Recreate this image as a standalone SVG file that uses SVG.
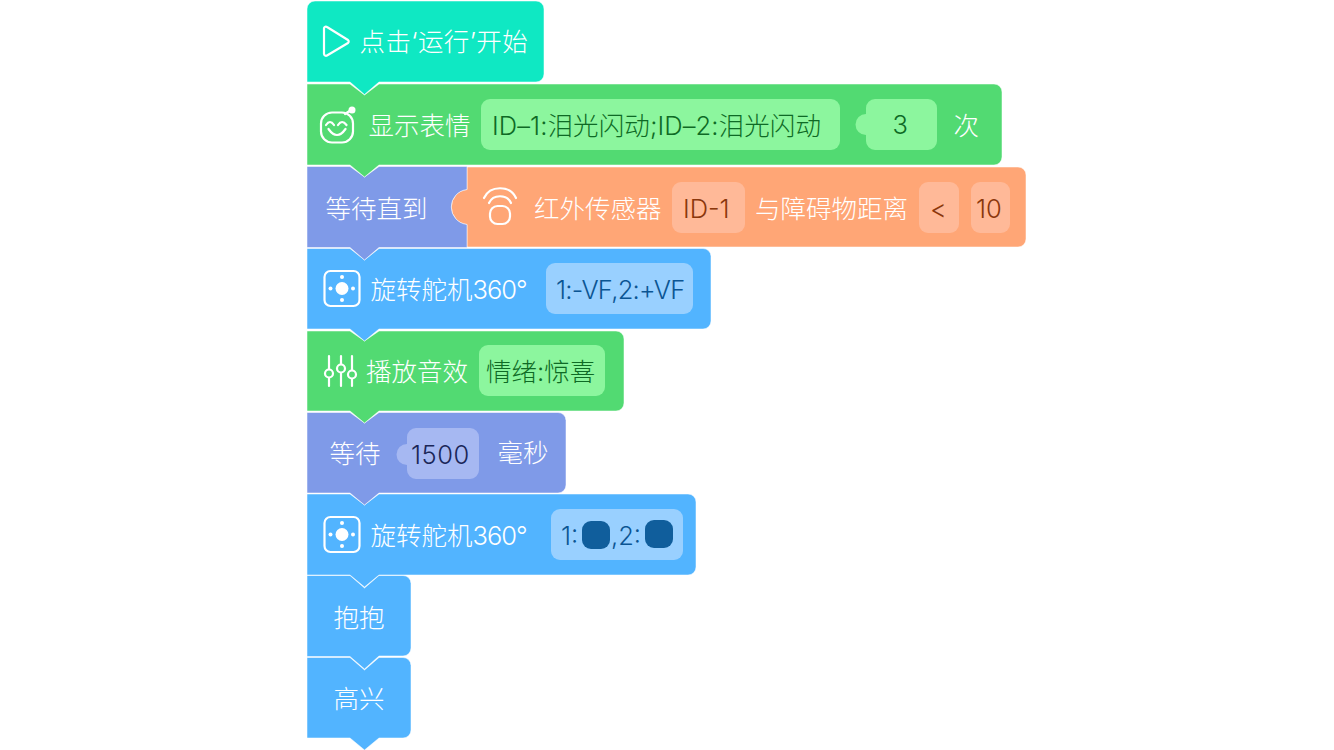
<svg xmlns="http://www.w3.org/2000/svg" width="1334" height="750" viewBox="0 0 1334 750">
<style>
text{font-family:"Inter","Noto Sans CJK SC",sans-serif;font-size:25.500px;font-weight:300}
.w{fill:#fff}
.s{stroke:#fff;stroke-opacity:.5;stroke-width:1}
.i{fill:none;stroke:#fff;stroke-width:2.200;stroke-linecap:round;stroke-linejoin:round}
.g{fill:#8cf69e}
.b{fill:#99d0ff}
.o{fill:#ffb998}
.gt{fill:#0e6a25}
.bt{fill:#0b5593}
.ot{fill:#8a370c}
.t{letter-spacing:-1px}
</style>
<rect width="1334" height="750" fill="#fff"/>
<g id="connectors"></g>
<g id="node-gaoxing">
<path class="s" fill="#52b4ff" d="M307 657.500H350L364.500 670L379 657.500H403a8 8 0 0 1 8 8V730a8 8 0 0 1-8 8H379L364.500 750L350 738H307Z"/>
<text class="w" x="333.500" y="708">高兴</text>
</g>
<g id="node-baobao">
<path class="s" fill="#52b4ff" d="M307 575.500H350L364.500 588L379 575.500H403a8 8 0 0 1 8 8V648a8 8 0 0 1-8 8H379L364.500 669L350 656.500H307Z"/>
<text class="w" x="333.500" y="627">抱抱</text>
</g>
<g id="node-servo2">
<path class="s" fill="#52b4ff" d="M307 494H350L364.500 505L379 494H688a8 8 0 0 1 8 8V567a8 8 0 0 1-8 8H379L364.500 587L350 575H307Z"/>
<rect x="324.500" y="517" width="35" height="35" rx="6" class="i"/>
<circle cx="342" cy="534.500" r="6.500" fill="#fff"/><circle cx="330.500" cy="534.500" r="2" fill="#fff"/><circle cx="353" cy="534.500" r="2" fill="#fff"/><circle cx="342" cy="523" r="2" fill="#fff"/><circle cx="342" cy="546" r="2" fill="#fff"/>
<text class="w" x="370.500" y="545">旋转舵机<tspan class="t">360°</tspan></text>
<rect class="b" x="551" y="509" width="132" height="51" rx="9"/>
<text class="bt" x="561" y="545">1:</text>
<rect x="582" y="521" width="28" height="28" rx="9" fill="#105e9c"/>
<text class="bt" x="611" y="545">,2:</text>
<rect x="645" y="520" width="28" height="28" rx="9" fill="#105e9c"/>
</g>
<g id="node-wait">
<path class="s" fill="#7f9ae8" d="M307 412.500H350L364.500 423L379 412.500H558a8 8 0 0 1 8 8V485a8 8 0 0 1-8 8H379L364.500 505L350 493H307Z"/>
<text class="w" x="329.500" y="463">等待</text>
<path fill="#a6b8f2" d="M416 428H470a9 9 0 0 1 9 9V470a9 9 0 0 1-9 9H416a9 9 0 0 1-9-9V465a10.500 10.500 0 0 1 0-21V437a9 9 0 0 1 9-9Z"/>
<text x="411" y="464" fill="#1a2658" letter-spacing=".5">1500</text>
<text class="w" x="497.500" y="462">毫秒</text>
</g>
<g id="node-sound">
<path class="s" fill="#52da72" d="M307 331H350L364.500 341L379 331H616a8 8 0 0 1 8 8V403a8 8 0 0 1-8 8H379L364.500 423L350 411H307Z"/>
<g class="i"><path d="M329 356V369M329 378V386M341 356V364M341 373V386M352 356V370M352 379V386"/><circle cx="329" cy="373.500" r="4"/><circle cx="341" cy="368.500" r="4"/><circle cx="352" cy="374.500" r="4"/></g>
<text class="w" x="366" y="381">播放音效</text>
<rect class="g" x="479" y="345" width="126" height="51" rx="9"/>
<text class="gt" x="486" y="381">情绪:惊喜</text>
</g>
<g id="node-servo1">
<path class="s" fill="#52b4ff" d="M307 248.500H350L364.500 260L379 248.500H703a8 8 0 0 1 8 8V321a8 8 0 0 1-8 8H379L364.500 341L350 329H307Z"/>
<rect x="324.500" y="271" width="35" height="35" rx="6" class="i"/>
<circle cx="342" cy="288.500" r="6.500" fill="#fff"/><circle cx="330.500" cy="288.500" r="2" fill="#fff"/><circle cx="353" cy="288.500" r="2" fill="#fff"/><circle cx="342" cy="277" r="2" fill="#fff"/><circle cx="342" cy="300" r="2" fill="#fff"/>
<text class="w" x="370.500" y="299">旋转舵机<tspan class="t">360°</tspan></text>
<rect class="b" x="546" y="263" width="147" height="51" rx="9"/>
<text class="bt" x="556" y="299" letter-spacing="-.7">1:-VF,2:+VF</text>
</g>
<g id="node-sensor">
<path class="s" fill="#ffa676" d="M467 167H1018a8 8 0 0 1 8 8V239a8 8 0 0 1-8 8H467V224.500a17.600 17.600 0 0 1 0-35Z"/>
<g class="i"><path d="M484 198C490 185 510 185 516 198M489 203C493 194 507 194 511 203"/><rect x="490" y="206" width="20" height="18" rx="7.500"/></g>
<text class="w" x="534" y="218">红外传感器</text>
<rect class="o" x="672" y="182" width="73" height="51" rx="9"/>
<text class="ot" x="683" y="218">ID-1</text>
<text class="w" x="755" y="218">与障碍物距离</text>
<rect class="o" x="919" y="182" width="40" height="51" rx="9"/>
<text class="ot" x="930" y="218">&lt;</text>
<rect class="o" x="971" y="182" width="39" height="51" rx="9"/>
<text class="ot" x="976" y="218">10</text>
</g>
<g id="node-waituntil">
<path class="s" fill="#7f9ae8" d="M307 166.500H350L364.500 177L379 166.500H467V189.500a17.600 17.600 0 0 0 0 35V247.500H379L364.500 260L350 247.500H307Z"/>
<text class="w" x="325.500" y="218">等待直到</text>
</g>
<g id="node-face">
<path class="s" fill="#52da72" d="M307 84H350L364.500 95L379 84H994a8 8 0 0 1 8 8V157a8 8 0 0 1-8 8H379L364.500 177L350 165H307Z"/>
<g class="i"><rect x="321" y="112.500" width="32" height="30" rx="11"/><path d="M345 114L351 110M326 125Q330 119 334 125M338 125Q342 119 346.500 125M328.500 129Q337 141 345.500 129"/></g>
<circle cx="352" cy="110" r="3.500" fill="#fff"/>
<text class="w" x="368.500" y="135">显示表情</text>
<rect class="g" x="481" y="99" width="359" height="51" rx="9"/>
<text class="gt" x="492" y="135" letter-spacing=".1">ID–1:泪光闪动;ID–2:泪光闪动</text>
<path class="g" d="M875 99H928a9 9 0 0 1 9 9V141a9 9 0 0 1-9 9H875a9 9 0 0 1-9-9V135a10.500 10.500 0 0 1 0-21V108a9 9 0 0 1 9-9Z"/>
<text class="gt" x="892.500" y="134">3</text>
<text class="w" x="953.500" y="135">次</text>
</g>
<g id="node-start">
<path class="s" fill="#0fe8c3" d="M315 1H536a8 8 0 0 1 8 8V74a8 8 0 0 1-8 8H379L364.500 94.500L350 82H307V9a8 8 0 0 1 8-8Z"/>
<path class="i" d="M324 28V54a2 2 0 0 0 3 1.500L348 43a2 2 0 0 0 0-3L327 27a2 2 0 0 0-3 1Z"/>
<text class="w" x="359.500" y="51" letter-spacing=".4">点击‘运行’开始</text>
</g>
</svg>
